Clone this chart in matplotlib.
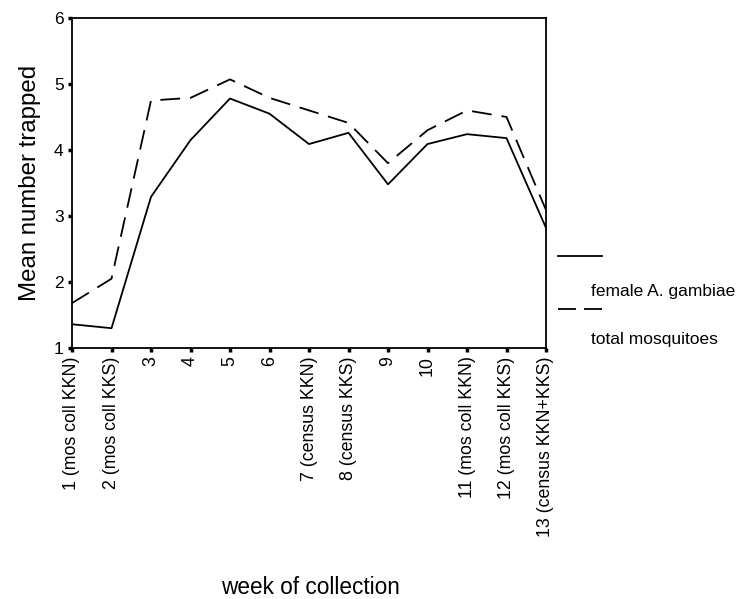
import matplotlib
matplotlib.use("Agg")
import matplotlib.pyplot as plt
from matplotlib.lines import Line2D

plt.rcParams['font.family'] = ['Liberation Sans', 'DejaVu Sans']

weeks = list(range(1, 14))
week_labels = ["1 (mos coll KKN)", "2 (mos coll KKS)", "3", "4", "5", "6",
               "7 (census KKN)", "8 (census KKS)", "9", "10",
               "11 (mos coll KKN)", "12 (mos coll KKS)", "13 (census KKN+KKS)"]
female_gambiae = [1.36, 1.30, 3.29, 4.15, 4.78, 4.55, 4.09, 4.26, 3.48, 4.09, 4.24, 4.18, 2.82]
total_mosquitoes = [1.68, 2.05, 4.75, 4.79, 5.07, 4.79, 4.60, 4.41, 3.80, 4.30, 4.60, 4.50, 3.09]

dash = (0, (11, 5.5))

fig = plt.figure(figsize=(7.41, 5.99), dpi=100)
ax = fig.add_axes([72/741, 1 - 348/599, (546-72)/741, (348-18)/599])

ax.plot(weeks, female_gambiae, color='black', lw=1.3, linestyle='-')
ax.plot(weeks, total_mosquitoes, color='black', lw=1.3, linestyle=dash)

ax.set_xlim(1, 13)
ax.set_ylim(1, 6)
ax.set_yticks([1, 2, 3, 4, 5, 6])
ax.set_xticks(weeks)
ax.set_xticklabels(week_labels, rotation=90, fontsize=12.8)
ax.tick_params(axis='y', labelsize=12.5, length=3, width=2.5, direction='out', pad=3)
ax.tick_params(axis='x', length=3, width=2.5, direction='out', pad=3)
for s in ax.spines.values():
    s.set_linewidth(1.3)

ax.set_ylabel("Mean number trapped", fontsize=17.3, labelpad=9)
fig.text(310/741, 1 - 587/599, "week of collection", fontsize=16.3, ha='center', va='center')

# legend outside right
fig.add_artist(Line2D([558/741, 602/741], [1 - 256/599, 1 - 256/599], color='black', lw=1.3))
fig.text(591/741, 1 - 291/599, "female A. gambiae", fontsize=12.5, ha='left', va='center')
fig.add_artist(Line2D([558/741, 602/741], [1 - 309/599, 1 - 309/599], color='black', lw=1.3,
                      linestyle=(0, (10, 4.4)), dash_capstyle='butt'))
fig.text(591/741, 1 - 340/599, "total mosquitoes", fontsize=12.5, ha='left', va='center')

fig.savefig("out.png", dpi=100)
